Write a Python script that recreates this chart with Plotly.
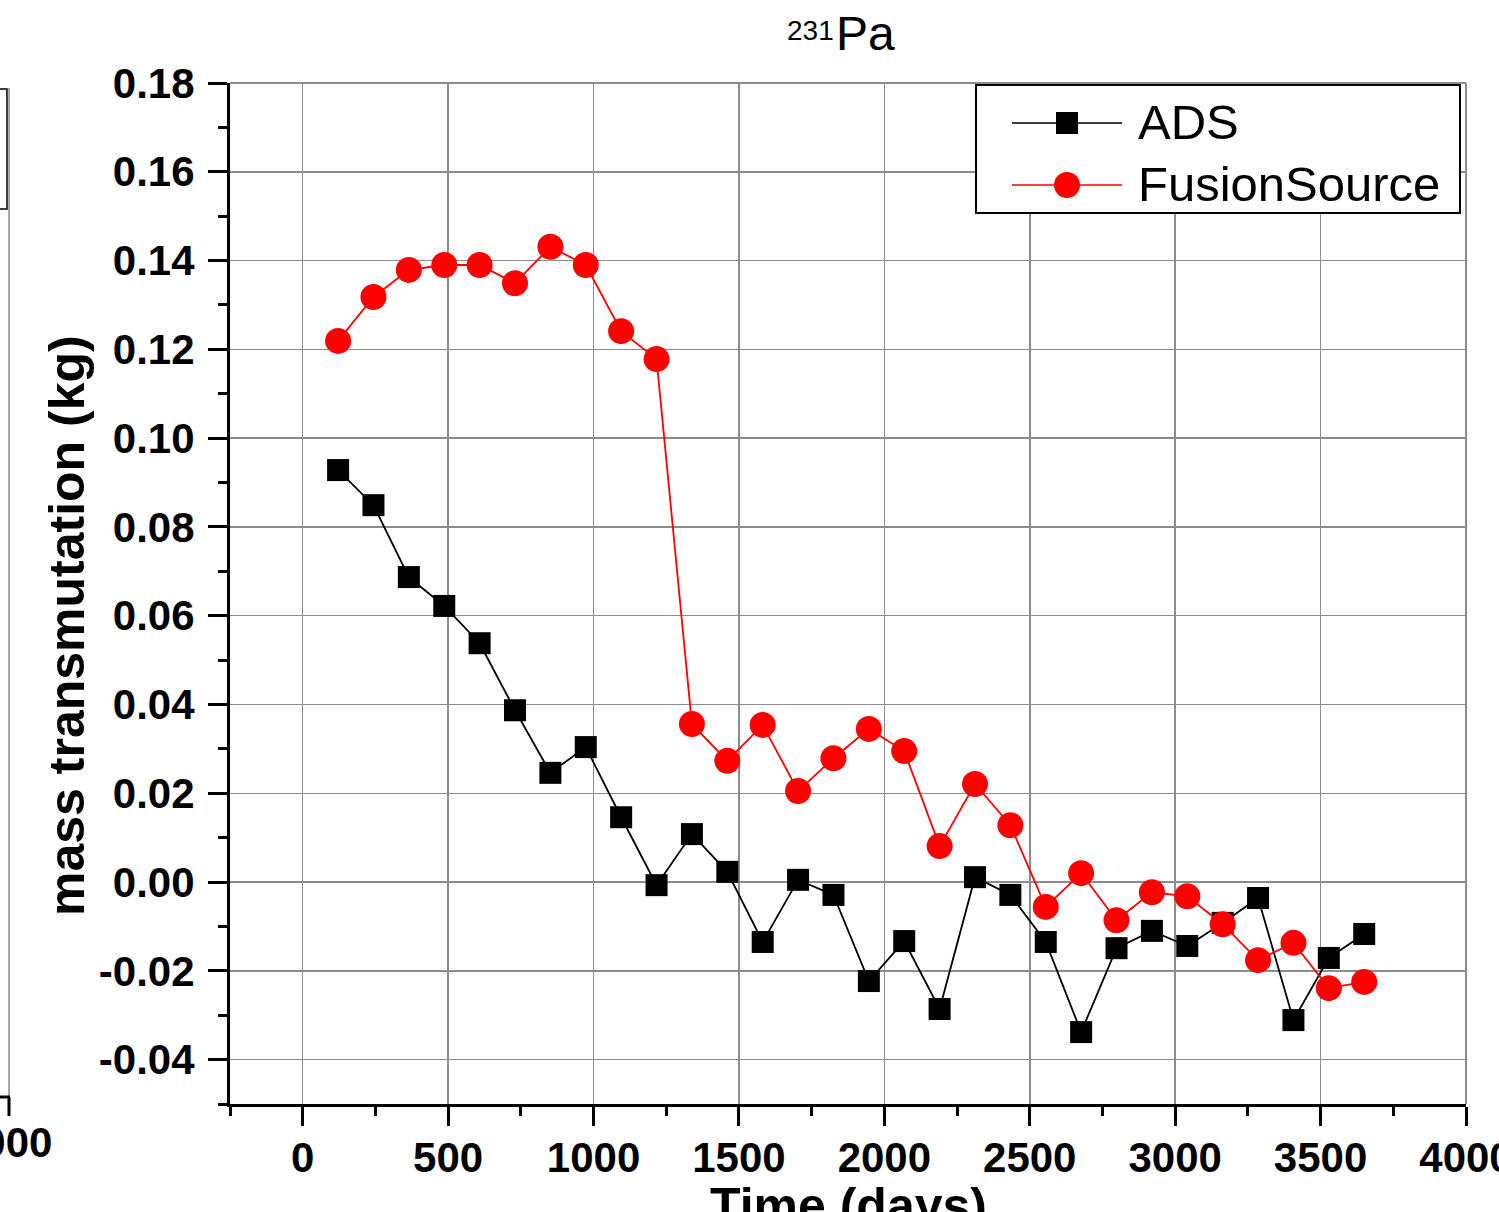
import plotly.graph_objects as go

# ---- data ----
time_days = [121.7, 243.3, 365.0, 486.7, 608.3, 730.0, 851.7, 973.3, 1095.0, 1216.7,
             1338.3, 1460.0, 1581.7, 1703.3, 1825.0, 1946.7, 2068.3, 2190.0, 2311.7, 2433.3,
             2555.0, 2676.7, 2798.3, 2920.0, 3041.7, 3163.3, 3285.0, 3406.7, 3528.3, 3650.0]
ads = [0.0928, 0.0849, 0.0687, 0.0622, 0.0538, 0.0387, 0.0246, 0.0304, 0.0146, -0.0007,
       0.0108, 0.0023, -0.0135, 0.0005, -0.0029, -0.0223, -0.0133, -0.0286, 0.0011, -0.0029,
       -0.0135, -0.0338, -0.0149, -0.0110, -0.0144, -0.0092, -0.0036, -0.0311, -0.0171, -0.0117]
fusion = [0.1219, 0.1318, 0.1379, 0.1390, 0.1390, 0.1349, 0.1431, 0.1390, 0.1241, 0.1178,
          0.0356, 0.0273, 0.0354, 0.0205, 0.0279, 0.0345, 0.0295, 0.0081, 0.0221, 0.0128,
          -0.0056, 0.0020, -0.0086, -0.0023, -0.0032, -0.0095, -0.0176, -0.0137, -0.0239, -0.0225]
series_names = ["ADS", "FusionSource"]
x_ticks = [0, 500, 1000, 1500, 2000, 2500, 3000, 3500, 4000]
y_ticks = [-0.04, -0.02, 0.00, 0.02, 0.04, 0.06, 0.08, 0.10, 0.12, 0.14, 0.16, 0.18]
y_tick_labels = ["-0.04", "-0.02", "0.00", "0.02", "0.04", "0.06", "0.08", "0.10",
                 "0.12", "0.14", "0.16", "0.18"]

W, H = 1499, 1212
L, R, T, B = 230, 1466, 83, 1104
FONT = "Liberation Sans, Arial, sans-serif"

def px(xp):
    return (xp - L) / (R - L)

def py(yp):
    return (B - yp) / (B - T)

fig = go.Figure()
fig.add_trace(go.Scatter(x=time_days, y=ads, mode="lines+markers", name=series_names[0],
                         line=dict(color="black", width=1.8),
                         marker=dict(symbol="square", size=22, color="black"),
                         showlegend=False))
fig.add_trace(go.Scatter(x=time_days, y=fusion, mode="lines+markers", name=series_names[1],
                         line=dict(color="#ff0000", width=1.8),
                         marker=dict(symbol="circle", size=26, color="#ff0000"),
                         showlegend=False))

shapes = []
# grey top / right frame
shapes.append(dict(type="line", xref="paper", yref="paper", x0=0, x1=1, y0=1, y1=1,
                   line=dict(color="#8c8c8c", width=2)))
shapes.append(dict(type="line", xref="paper", yref="paper", x0=1, x1=1, y0=0, y1=1,
                   line=dict(color="#8c8c8c", width=2)))
# legend box
shapes.append(dict(type="rect", xref="paper", yref="paper", x0=px(976), x1=px(1460),
                   y0=py(213), y1=py(85), line=dict(color="black", width=2),
                   fillcolor="white", layer="above"))
# legend lines
shapes.append(dict(type="line", xref="paper", yref="paper", x0=px(1012), x1=px(1122),
                   y0=py(123), y1=py(123), line=dict(color="black", width=1.5), layer="above"))
shapes.append(dict(type="line", xref="paper", yref="paper", x0=px(1012), x1=px(1122),
                   y0=py(185), y1=py(185), line=dict(color="#ff0000", width=1.5), layer="above"))
# legend markers
shapes.append(dict(type="rect", xref="paper", yref="paper", x0=px(1056), x1=px(1078),
                   y0=py(134), y1=py(112), line=dict(width=0), fillcolor="black", layer="above"))
shapes.append(dict(type="circle", xref="paper", yref="paper", x0=px(1054), x1=px(1080),
                   y0=py(198), y1=py(172), line=dict(width=0), fillcolor="#ff0000", layer="above"))
# neighbouring chart fragments (left edge)
shapes.append(dict(type="line", xref="paper", yref="paper", x0=px(9), x1=px(9),
                   y0=py(1097), y1=py(88), line=dict(color="#8c8c8c", width=1.5)))
shapes.append(dict(type="rect", xref="paper", yref="paper", x0=px(-20), x1=px(7),
                   y0=py(209), y1=py(89), line=dict(color="black", width=1.5)))
shapes.append(dict(type="line", xref="paper", yref="paper", x0=px(-5), x1=px(10),
                   y0=py(1097), y1=py(1097), line=dict(color="black", width=3)))
shapes.append(dict(type="line", xref="paper", yref="paper", x0=px(9), x1=px(9),
                   y0=py(1097), y1=py(1116), line=dict(color="black", width=3)))

annotations = [
    dict(text="ADS", xref="paper", yref="paper", x=px(1136), y=py(122), xanchor="left",
         yanchor="middle", showarrow=False, font=dict(family=FONT, size=49, color="black")),
    dict(text="FusionSource", xref="paper", yref="paper", x=px(1136), y=py(184), xanchor="left",
         yanchor="middle", showarrow=False, font=dict(family=FONT, size=49, color="black")),
    dict(text="mass transmutation (kg)", xref="paper", yref="paper", x=px(67), y=py(626),
         xanchor="center", yanchor="middle", textangle=-90, showarrow=False,
         font=dict(family=FONT, size=50, color="black", weight="bold")),
    dict(text="Time (days)", xref="paper", yref="paper", x=px(848), y=py(1176),
         xanchor="center", yanchor="top", showarrow=False,
         font=dict(family=FONT, size=50, color="black", weight="bold")),
    dict(text="231", xref="paper", yref="paper", x=px(836), y=py(30),
         xanchor="right", yanchor="middle", showarrow=False,
         font=dict(family=FONT, size=28, color="black")),
    dict(text="Pa", xref="paper", yref="paper", x=px(834), y=py(34),
         xanchor="left", yanchor="middle", showarrow=False,
         font=dict(family=FONT, size=48, color="black")),
    dict(text="4000", xref="paper", yref="paper", x=px(5), y=py(1142),
         xanchor="center", yanchor="middle", showarrow=False,
         font=dict(family=FONT, size=42, color="black", weight="bold")),
]

fig.update_layout(
    width=W, height=H,
    margin=dict(l=L, r=W - R, t=T, b=H - B, autoexpand=False),
    paper_bgcolor="white", plot_bgcolor="white",
    shapes=shapes, annotations=annotations,
    showlegend=False,
)
fig.update_xaxes(
    range=[-250, 4000], tickmode="array", tickvals=x_ticks,
    ticktext=[str(v) for v in x_ticks],
    showgrid=True, gridcolor="#8c8c8c", gridwidth=1.5, zeroline=False,
    showline=True, linecolor="black", linewidth=3,
    ticks="outside", ticklen=19, tickwidth=3, tickcolor="black",
    minor=dict(ticks="outside", ticklen=9, tickwidth=3, tickcolor="black",
               dtick=250, tick0=0, showgrid=False),
    tickfont=dict(family=FONT, size=42, color="black", weight="bold"),
    ticklabeloverflow="allow",
    ticklabelstandoff=-4,
    automargin=False,
)
fig.update_yaxes(
    range=[-0.05, 0.18], tickmode="array", tickvals=y_ticks, ticktext=y_tick_labels,
    showgrid=True, gridcolor="#8c8c8c", gridwidth=1.5, zeroline=False,
    showline=True, linecolor="black", linewidth=3,
    ticks="outside", ticklen=19, tickwidth=3, tickcolor="black",
    minor=dict(ticks="outside", ticklen=9, tickwidth=3, tickcolor="black",
               dtick=0.01, tick0=0, showgrid=False),
    tickfont=dict(family=FONT, size=42, color="black", weight="bold"),
    ticklabeloverflow="allow",
    ticklabelstandoff=5,
    automargin=False,
)

fig.write_html("out.html",
               config={"displayModeBar": False, "staticPlot": True},
               post_script="document.body.style.margin='0';document.body.style.overflow='hidden';")
